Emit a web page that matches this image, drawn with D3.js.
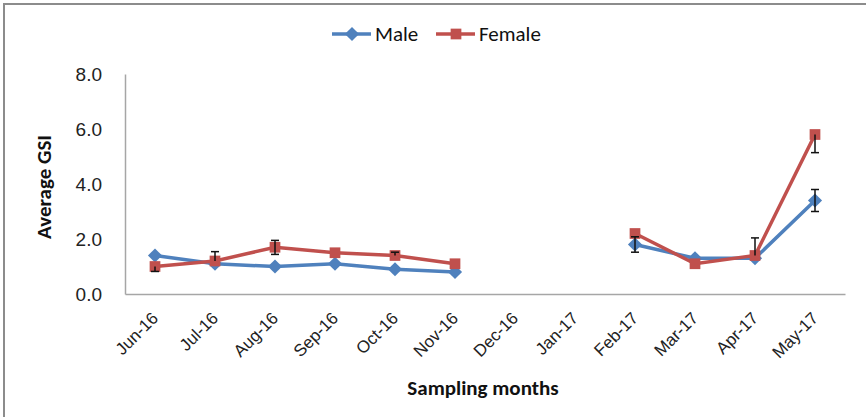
<!DOCTYPE html>
<html>
<head>
<meta charset="utf-8">
<script src="https://cdn.jsdelivr.net/npm/d3@7"></script>
<style>
  body { margin: 0; background: #fff; }
  svg { display: block; font-family: Calibri, Carlito, Lato, sans-serif; }
</style>
</head>
<body>
<svg id="chart" width="866" height="417"></svg>
<script>
const months = ['Jun-16', 'Jul-16', 'Aug-16', 'Sep-16', 'Oct-16', 'Nov-16',
  'Dec-16', 'Jan-17', 'Feb-17', 'Mar-17', 'Apr-17', 'May-17'];

const male = [1.4, 1.1, 1.0, 1.1, 0.9, 0.8, null, null, 1.8, 1.3, 1.3, 3.4];
const female = [1.0, 1.2, 1.7, 1.5, 1.4, 1.1, null, null, 2.2, 1.1, 1.4, 5.8];

// error bars (plus / minus part)
const maleErrPlus = [0, 0, 0, 0, 0, 0, null, null, 0.28, 0, 0, 0.4];
const maleErrMinus = [0, 0, 0, 0, 0, 0, null, null, 0.28, 0, 0, 0.4];
const femaleErrPlus = [0, 0.34, 0.25, 0, 0.12, 0, null, null, 0, 0, 0.64, 0];
const femaleErrMinus = [0.18, 0, 0.26, 0, 0, 0, null, null, 0, 0, 0, 0.66];

const yTicks = [0, 2, 4, 6, 8];

const series = [
  { name: 'Male', values: male, plus: maleErrPlus, minus: maleErrMinus, color: '#4F81BD', marker: 'diamond' },
  { name: 'Female', values: female, plus: femaleErrPlus, minus: femaleErrMinus, color: '#C0504D', marker: 'square' }
];

const svg = d3.select('#chart');

// outer chart border
svg.append('rect')
  .attr('x', 4).attr('y', 4)
  .attr('width', 880).attr('height', 430)
  .attr('fill', 'none')
  .attr('stroke', '#8c8c8c')
  .attr('stroke-width', 2);

const x = d3.scaleBand().domain(months).range([125, 845]);
const y = d3.scaleLinear().domain([0, 8]).range([294, 74]);

// y axis
const yAxis = svg.append('g')
  .attr('transform', 'translate(125,0)')
  .call(d3.axisLeft(y).tickValues(yTicks).tickFormat(d3.format('.1f')).tickSize(0).tickPadding(23));
yAxis.select('.domain').attr('stroke', '#a6a6a6').attr('stroke-width', 1.5);
yAxis.selectAll('text').attr('font-size', 19).attr('fill', '#222').attr('font-family', null);

// x axis
const xAxis = svg.append('g')
  .attr('transform', 'translate(0,294)')
  .call(d3.axisBottom(x).tickSize(0).tickFormat(d => d));
xAxis.select('.domain').attr('stroke', '#a6a6a6').attr('stroke-width', 1.5);
xAxis.selectAll('text')
  .attr('font-size', 17)
  .attr('fill', '#222')
  .attr('font-family', null)
  .attr('text-anchor', 'end')
  .attr('y', 0)
  .attr('dy', '0.35em')
  .attr('transform', 'translate(0,21) rotate(-45)');

// axis titles
svg.append('text')
  .attr('transform', 'translate(51,187) rotate(-90)')
  .attr('text-anchor', 'middle')
  .attr('font-size', 21)
  .attr('font-weight', 'bold')
  .attr('fill', '#111')
  .text('Average GSI');

svg.append('text')
  .attr('x', 483).attr('y', 395)
  .attr('text-anchor', 'middle')
  .attr('font-size', 21)
  .attr('font-weight', 'bold')
  .attr('fill', '#111')
  .text('Sampling months');

const cx = d => x(d) + x.bandwidth() / 2;

const line = d3.line()
  .defined(d => d.v != null)
  .x(d => cx(d.m))
  .y(d => y(d.v));

// diamond = square turned 45 degrees, like the Excel marker
const markerPath = s => s.marker === 'diamond'
  ? d3.symbol().type(d3.symbolSquare).size(100)()
  : d3.symbol().type(d3.symbolSquare).size(115)();
const markerRot = s => s.marker === 'diamond' ? ' rotate(45)' : '';

series.forEach(s => {
  const pts = months.map((m, i) => ({ m, v: s.values[i], p: s.plus[i], n: s.minus[i] }));

  svg.append('path')
    .datum(pts)
    .attr('fill', 'none')
    .attr('stroke', s.color)
    .attr('stroke-width', 3.5)
    .attr('d', line);

  svg.append('g').selectAll('path')
    .data(pts.filter(d => d.v != null))
    .join('path')
    .attr('transform', d => `translate(${cx(d.m)},${y(d.v)})${markerRot(s)}`)
    .attr('fill', s.color)
    .attr('d', markerPath(s));
});

// error bars drawn on top of markers
series.forEach(s => {
  const pts = months.map((m, i) => ({ m, v: s.values[i], p: s.plus[i], n: s.minus[i] }))
    .filter(d => d.v != null && (d.p > 0 || d.n > 0));
  const g = svg.append('g').attr('stroke', '#111').attr('stroke-width', 1.5);
  pts.forEach(d => {
    const xc = cx(d.m);
    const top = y(d.v + d.p), bot = y(d.v - d.n);
    g.append('line').attr('x1', xc).attr('x2', xc).attr('y1', top).attr('y2', bot);
    if (d.p > 0) g.append('line').attr('x1', xc - 4).attr('x2', xc + 4).attr('y1', top).attr('y2', top);
    if (d.n > 0) g.append('line').attr('x1', xc - 4).attr('x2', xc + 4).attr('y1', bot).attr('y2', bot);
  });
});

// legend
const legend = svg.append('g');
const legendX = [332, 436];
series.forEach((s, i) => {
  const lg = legend.append('g').attr('transform', `translate(${legendX[i]},34)`);
  lg.append('line').attr('x1', 0).attr('x2', 39).attr('stroke', s.color).attr('stroke-width', 3.5);
  lg.append('path').attr('transform', 'translate(20,0)' + markerRot(s)).attr('fill', s.color).attr('d', markerPath(s));
  lg.append('text')
    .attr('x', 43).attr('dy', '0.35em')
    .attr('font-size', 21)
    .attr('fill', '#111')
    .text(s.name);
});
</script>
</body>
</html>
